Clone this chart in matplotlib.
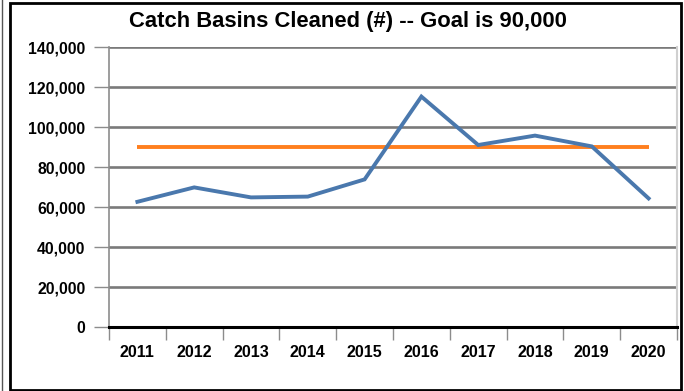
import matplotlib
matplotlib.use("Agg")
import matplotlib.pyplot as plt
from matplotlib.patches import Rectangle
from matplotlib.lines import Line2D
from matplotlib.ticker import FuncFormatter

# catch basins cleaned per year, with the annual goal
years = ['2011', '2012', '2013', '2014', '2015', '2016', '2017', '2018', '2019', '2020']
cleaned = [62600, 69800, 64800, 65200, 73800, 115200, 91000, 95700, 90300, 64300]
goal = [90000] * len(years)

plt.rcParams['font.family'] = ['Liberation Sans', 'DejaVu Sans']
plt.rcParams['font.weight'] = 'bold'

fig = plt.figure(figsize=(6.84, 3.91), dpi=100)
W, H = 684, 391
ax = fig.add_axes([109 / W, 64 / H, 568 / W, 280 / H])

pos = [i + 0.5 for i in range(len(years))]
ax.plot(pos, goal, color='#ff7f1e', lw=2.8, zorder=3, solid_capstyle='butt')
ax.plot(pos, cleaned, color='#4a78ad', lw=2.8, zorder=4, solid_joinstyle='miter')

ax.set_xlim(0, len(years))
ax.set_ylim(0, 140000)
ax.set_yticks(range(0, 140001, 20000))
ax.yaxis.set_major_formatter(FuncFormatter(lambda v, p: f'{int(v):,}'))
ax.grid(axis='y', color='#7a7a7a', lw=1.9, zorder=1)
ax.set_axisbelow(True)

# category boundaries get tick marks, labels sit at the centres
ax.set_xticks(range(len(years) + 1))
ax.set_xticklabels([])
ax.set_xticks(pos, minor=True)
ax.set_xticklabels(years, minor=True, fontsize=11.5, fontweight='bold')
ax.tick_params(axis='x', which='major', direction='out', length=9, width=1, color='#8c8c8c')
ax.tick_params(axis='x', which='minor', length=0, pad=13)
ax.tick_params(axis='y', direction='out', length=11, width=1, color='#8c8c8c', pad=6,
               labelsize=11.3)
for lbl in ax.get_yticklabels():
    lbl.set_fontweight('bold')

ax.spines['top'].set_visible(False)
ax.spines['right'].set_color('#d0d0d0')
ax.spines['right'].set_linewidth(1.5)
ax.spines['left'].set_color('#8c8c8c')
ax.spines['left'].set_linewidth(1.2)
ax.spines['bottom'].set_color('black')
ax.spines['bottom'].set_linewidth(2.2)
ax.spines['bottom'].set_zorder(5)

fig.text(348 / W, 1 - 21 / H, 'Catch Basins Cleaned (#) -- Goal is 90,000',
         ha='center', va='center', fontsize=15.8, fontweight='bold')

# outer frame
fig.patches.append(Rectangle((10 / W, 1 / H), 671 / W, 387 / H, transform=fig.transFigure,
                             fill=False, edgecolor='black', lw=2))
fig.lines.append(Line2D([1.5 / W, 1.5 / W], [0, 1], transform=fig.transFigure,
                        color='#555555', lw=1))

fig.savefig('out.png', dpi=100)
